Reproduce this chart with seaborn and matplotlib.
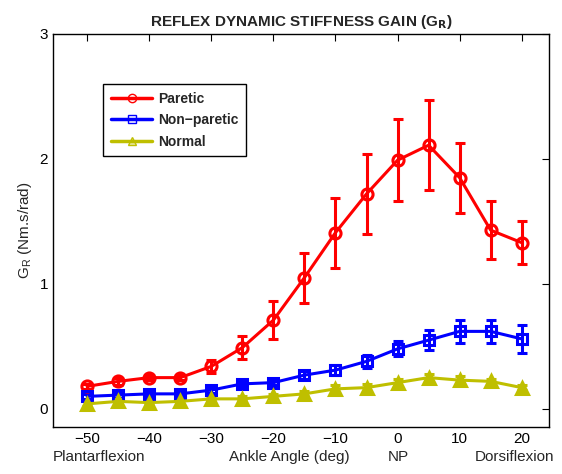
import matplotlib
matplotlib.use("Agg")
import matplotlib.pyplot as plt
import seaborn as sns
import pandas as pd
from matplotlib.lines import Line2D

angles = [-50, -45, -40, -35, -30, -25, -20, -15, -10, -5, 0, 5, 10, 15, 20]
paretic = [0.18, 0.22, 0.25, 0.25, 0.34, 0.49, 0.71, 1.05, 1.41, 1.72, 1.99, 2.11, 1.85, 1.43, 1.33]
paretic_err = [0.02, 0.03, 0.02, 0.02, 0.05, 0.09, 0.15, 0.20, 0.28, 0.32, 0.33, 0.36, 0.28, 0.23, 0.17]
nonparetic = [0.10, 0.11, 0.12, 0.12, 0.15, 0.20, 0.21, 0.27, 0.31, 0.38, 0.48, 0.55, 0.62, 0.62, 0.56]
nonparetic_err = [0.02, 0.02, 0.02, 0.02, 0.02, 0.02, 0.02, 0.03, 0.04, 0.05, 0.06, 0.08, 0.09, 0.09, 0.11]
normal = [0.04, 0.06, 0.05, 0.06, 0.08, 0.08, 0.10, 0.12, 0.16, 0.17, 0.21, 0.25, 0.23, 0.22, 0.17]
normal_err = [0.02, 0.02, 0.02, 0.02, 0.02, 0.02, 0.02, 0.02, 0.03, 0.03, 0.03, 0.03, 0.03, 0.02, 0.02]
series_names = ["Paretic", "Non\u2212paretic", "Normal"]
x_ticks = [-50, -40, -30, -20, -10, 0, 10, 20]
y_ticks = [0, 1, 2, 3]

sns.set_style("white")
plt.rcParams["font.family"] = ["Liberation Sans", "DejaVu Sans"]

fig = plt.figure(figsize=(5.62, 4.74), dpi=100)
ax = fig.add_axes([0.0943, 0.0992, 0.8826, 0.8291])

colors = ["#ff0000", "#0000ff", "#bfbf00"]
markers = ["o", "s", "^"]
msizes = [8, 6.5, 8]
values = [paretic, nonparetic, normal]
errs = [paretic_err, nonparetic_err, normal_err]

rows = []
for name, vals in zip(series_names, values):
    for a, v in zip(angles, vals):
        rows.append({"angle": a, "value": v, "group": name})
df = pd.DataFrame(rows)

sns.lineplot(data=df, x="angle", y="value", hue="group", style="group",
             hue_order=series_names, style_order=series_names,
             palette=dict(zip(series_names, colors)),
             markers=dict(zip(series_names, markers)),
             dashes=False, linewidth=2.2, markersize=8, ax=ax,
             legend=False)

main_lines = list(ax.get_lines())
for ln, c, m, ms in zip(main_lines, colors, markers, msizes):
    ln.set_zorder(3)
    ln.set_markersize(ms)
    ln.set_markerfacecolor("none" if m != "^" else c)
    ln.set_markeredgecolor(c)
    ln.set_markeredgewidth(2.2)

for vals, err, c in zip(values, errs, colors):
    ax.errorbar(angles, vals, yerr=err, fmt="none", ecolor=c, elinewidth=2.2,
                capsize=3.5, capthick=2.2, zorder=2)

handles = []
for name, c, m in zip(series_names, colors, markers):
    handles.append(Line2D([0], [0], color=c, marker=m, linewidth=2.5, markersize=6,
                          markeredgewidth=1.0,
                          markerfacecolor="none" if m != "^" else (0.75, 0.75, 0, 0.35),
                          markeredgecolor=c, label=name))
leg = ax.legend(handles=handles, loc="upper left", bbox_to_anchor=(0.101, 0.873),
                borderaxespad=0, frameon=True, fancybox=False, edgecolor="black",
                framealpha=1, prop={"weight": "bold", "size": 10}, handlelength=3.0,
                handletextpad=0.4, borderpad=0.55, labelspacing=0.55)
leg.get_frame().set_linewidth(1.0)

ax.set_xlim(-55.5, 24.4)
ax.set_ylim(-0.145, 3)
ax.set_xticks(x_ticks)
ax.set_yticks(y_ticks)
ax.set_xticklabels([("\u2212" + str(-t)) if t < 0 else str(t) for t in x_ticks], fontsize=11)
ax.set_yticklabels([str(t) for t in y_ticks], fontsize=11)
ax.tick_params(direction="in", top=True, right=True, length=5, width=0.8, colors="black")
for s in ax.spines.values():
    s.set_color("black")
    s.set_linewidth(1.0)
ax.set_xlabel("")
ax.set_ylabel(r"G$_\mathregular{R}$ (Nm.s/rad)", fontsize=11)
ax.set_title(r"REFLEX DYNAMIC STIFFNESS GAIN (G$_\mathbf{R}$)", fontsize=11, fontweight="bold", pad=6)

fig.text(0.094, 0.027, "Plantarflexion", fontsize=11, ha="left")
fig.text(0.515, 0.027, "Ankle Angle (deg)", fontsize=11, ha="center")
fig.text(0.708, 0.027, "NP", fontsize=11, ha="center")
fig.text(0.987, 0.027, "Dorsiflexion", fontsize=11, ha="right")

fig.savefig("out.png", dpi=100)
